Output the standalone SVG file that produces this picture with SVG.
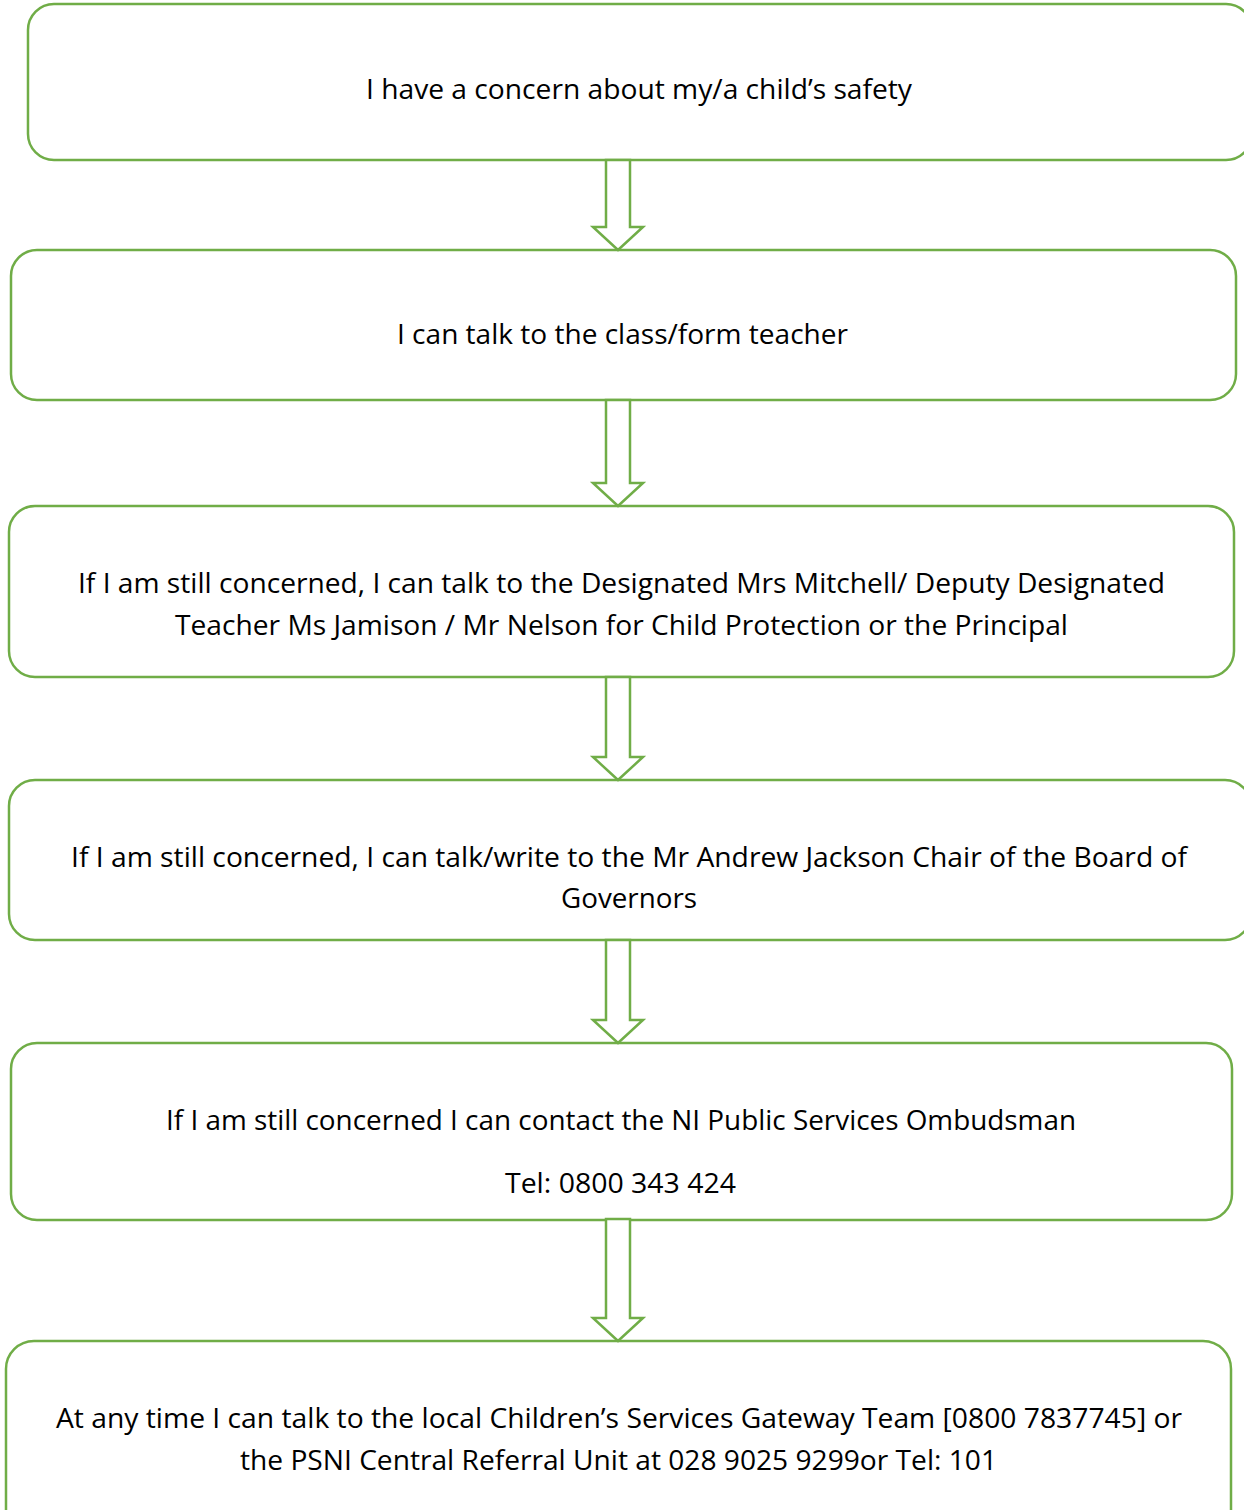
<svg xmlns="http://www.w3.org/2000/svg" width="1244" height="1510" viewBox="0 0 1244 1510">
<style>
.box{fill:#fff;stroke:#70AD47;stroke-width:2.5}
.arr{fill:#fff;stroke:#70AD47;stroke-width:2.5;stroke-linejoin:miter}
text{font-family:"Open Sans","Liberation Sans",sans-serif;font-size:28px;fill:#000}
</style>
<rect width="1244" height="1510" fill="#fff"/>
<g id="n1"><rect class="box" x="28" y="4" width="1224" height="156" rx="26"/>
<text x="366" y="99" textLength="546" lengthAdjust="spacingAndGlyphs">I have a concern about my/a child’s safety</text></g>
<g id="n2"><rect class="box" x="11" y="250" width="1225" height="150" rx="26"/>
<text x="397" y="344" textLength="451" lengthAdjust="spacingAndGlyphs">I can talk to the class/form teacher</text></g>
<g id="n3"><rect class="box" x="9" y="506" width="1225" height="171" rx="26"/>
<text x="78" y="593" textLength="1087" lengthAdjust="spacingAndGlyphs">If I am still concerned, I can talk to the Designated Mrs Mitchell/ Deputy Designated</text>
<text x="175" y="635" textLength="893" lengthAdjust="spacingAndGlyphs">Teacher Ms Jamison / Mr Nelson for Child Protection or the Principal</text></g>
<g id="n4"><rect class="box" x="9" y="780" width="1242" height="160" rx="26"/>
<text x="71" y="867" textLength="1116" lengthAdjust="spacingAndGlyphs">If I am still concerned, I can talk/write to the Mr Andrew Jackson Chair of the Board of</text>
<text x="561" y="908" textLength="136" lengthAdjust="spacingAndGlyphs">Governors</text></g>
<g id="n5"><rect class="box" x="11" y="1043" width="1221" height="177" rx="26"/>
<text x="166" y="1130" textLength="910" lengthAdjust="spacingAndGlyphs">If I am still concerned I can contact the NI Public Services Ombudsman</text>
<text x="505" y="1193" textLength="231" lengthAdjust="spacingAndGlyphs">Tel: 0800 343 424</text></g>
<g id="n6"><rect class="box" x="6" y="1341" width="1225" height="200" rx="28"/>
<text x="56" y="1428" textLength="1126" lengthAdjust="spacingAndGlyphs">At any time I can talk to the local Children’s Services Gateway Team [0800 7837745] or</text>
<text x="240" y="1470" textLength="757" lengthAdjust="spacingAndGlyphs">the PSNI Central Referral Unit at 028 9025 9299or Tel: 101</text></g>
<g id="connectors">
<path class="arr" d="M606,160 L630,160 L630,227 L643,227 L618,250 L593,227 L606,227 Z"/>
<path class="arr" d="M606,400 L630,400 L630,483 L643,483 L618,506 L593,483 L606,483 Z"/>
<path class="arr" d="M606,677 L630,677 L630,757 L643,757 L618,780 L593,757 L606,757 Z"/>
<path class="arr" d="M606,940 L630,940 L630,1020 L643,1020 L618,1043 L593,1020 L606,1020 Z"/>
<path class="arr" d="M606,1219 L630,1219 L630,1318 L643,1318 L618,1341 L593,1318 L606,1318 Z"/>
</g>
</svg>
